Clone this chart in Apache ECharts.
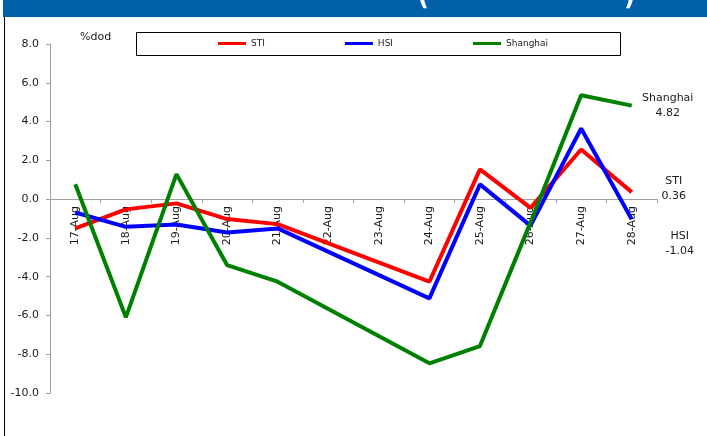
<!DOCTYPE html>
<html>
<head>
<meta charset="utf-8">
<script src="https://cdn.jsdelivr.net/npm/echarts@6/dist/echarts.min.js"></script>
<style>
  html, body { margin: 0; padding: 0; background: #ffffff; }
  #chart { width: 707px; height: 436px; }
</style>
</head>
<body>
<div id="chart"></div>
<script>
// Daily % change (day on day), 17–28 Aug. Weekend days carry no quote.
const categories = ['17-Aug', '18-Aug', '19-Aug', '20-Aug', '21-Aug', '22-Aug',
                    '23-Aug', '24-Aug', '25-Aug', '26-Aug', '27-Aug', '28-Aug'];
const sti      = [-1.51, -0.53, -0.22, -1.03, -1.29, null, null, -4.26,  1.53, -0.45, 2.56,  0.36];
const hsi      = [-0.69, -1.43, -1.31, -1.72, -1.51, null, null, -5.12,  0.76, -1.37, 3.64, -1.04];
const shanghai = [ 0.77, -6.10,  1.29, -3.40, -4.26, null, null, -8.47, -7.58, -1.20, 5.36,  4.82];
const yTicks = [-10, -8, -6, -4, -2, 0, 2, 4, 6, 8];

const FONT = 'DejaVu Sans';
const TEXT = '#1a1a1a';
const AXIS = '#a0a0a0';

const GRID_TOP = 44, GRID_BOTTOM = 43, CHART_H = 436;
const yMin = yTicks[0], yMax = yTicks[yTicks.length - 1];
// lift the category axis (line, ticks and labels) from the plot bottom up to the zero line
const plotH = CHART_H - GRID_TOP - GRID_BOTTOM;
const zeroLift = -plotH * (0 - yMin) / (yMax - yMin);

function lineSeries(name, color, values, offset) {
  return {
    name: name,
    type: 'line',
    data: values,
    connectNulls: true,
    symbol: 'none',
    showSymbol: false,
    lineStyle: { color: color, width: 4 },
    itemStyle: { color: color },
    endLabel: {
      show: true,
      distance: 0,
      offset: offset,
      align: 'center',
      verticalAlign: 'middle',
      fontFamily: FONT,
      fontSize: 11,
      lineHeight: 15,
      color: TEXT,
      formatter: p => p.seriesName + '\n' + Number(p.value).toFixed(2)
    },
    emphasis: { disabled: true },
    animation: false,
    z: 3
  };
}

const chart = echarts.init(document.getElementById('chart'), null, { renderer: 'canvas' });

chart.setOption({
  animation: false,
  backgroundColor: '#ffffff',
  grid: { left: 50, right: 50, top: GRID_TOP, bottom: GRID_BOTTOM, containLabel: false, outerBoundsMode: 'none' },
  legend: {
    left: 218,
    top: 39,
    padding: 0,
    itemWidth: 28,
    itemHeight: 3,
    itemGap: 80,
    icon: 'rect',
    selectedMode: false,
    textStyle: { fontFamily: FONT, fontSize: 9, color: TEXT },
    data: ['STI', 'HSI', 'Shanghai']
  },
  xAxis: {
    type: 'category',
    data: categories,
    boundaryGap: true,
    position: 'bottom',
    offset: zeroLift,
    axisLine: { onZero: false, lineStyle: { color: AXIS, width: 1 } },
    axisTick: { show: true, alignWithLabel: false, length: 4, lineStyle: { color: AXIS } },
    axisLabel: {
      rotate: 90,
      interval: 0,
      margin: 7,
      fontFamily: FONT,
      fontSize: 11,
      color: TEXT
    },
    splitLine: { show: false },
    z: 1
  },
  yAxis: {
    type: 'value',
    min: yMin,
    max: yMax,
    interval: 2,
    axisLine: { show: true, lineStyle: { color: AXIS, width: 1 } },
    axisTick: { show: true, length: 4, lineStyle: { color: AXIS } },
    axisLabel: {
      margin: 11,
      fontFamily: FONT,
      fontSize: 11,
      color: TEXT,
      formatter: v => v.toFixed(1)
    },
    splitLine: { show: false }
  },
  graphic: [
    // heading band
    { type: 'rect', left: 3, top: 0, shape: { width: 704, height: 17 },
      style: { fill: '#0060a8' }, z: 0, silent: true },
    { type: 'text', x: 418, y: 11,
      style: { text: '(', fill: '#ffffff', font: 'bold 24px ' + FONT, verticalAlign: 'bottom' },
      z: 1, silent: true },
    { type: 'text', x: 624, y: 11,
      style: { text: ')', fill: '#ffffff', font: 'bold 24px ' + FONT, verticalAlign: 'bottom' },
      z: 1, silent: true },
    // left frame edge
    { type: 'line', shape: { x1: 4.5, y1: 17, x2: 4.5, y2: 436 },
      style: { stroke: '#000000', lineWidth: 1 }, silent: true },
    // legend frame
    { type: 'rect', shape: { x: 136.5, y: 32.5, width: 484, height: 23 },
      style: { fill: 'none', stroke: '#000000', lineWidth: 1 }, silent: true },
    // unit caption
    { type: 'text', x: 80, y: 37,
      style: { text: '%dod', fill: TEXT, font: '11px ' + FONT, verticalAlign: 'middle' },
      silent: true }
  ],
  series: [
    lineSeries('STI', '#ff0000', sti, [42, -3]),
    lineSeries('HSI', '#0000ff', hsi, [48, 24]),
    lineSeries('Shanghai', '#008000', shanghai, [36, 0])
  ]
});
</script>
</body>
</html>
